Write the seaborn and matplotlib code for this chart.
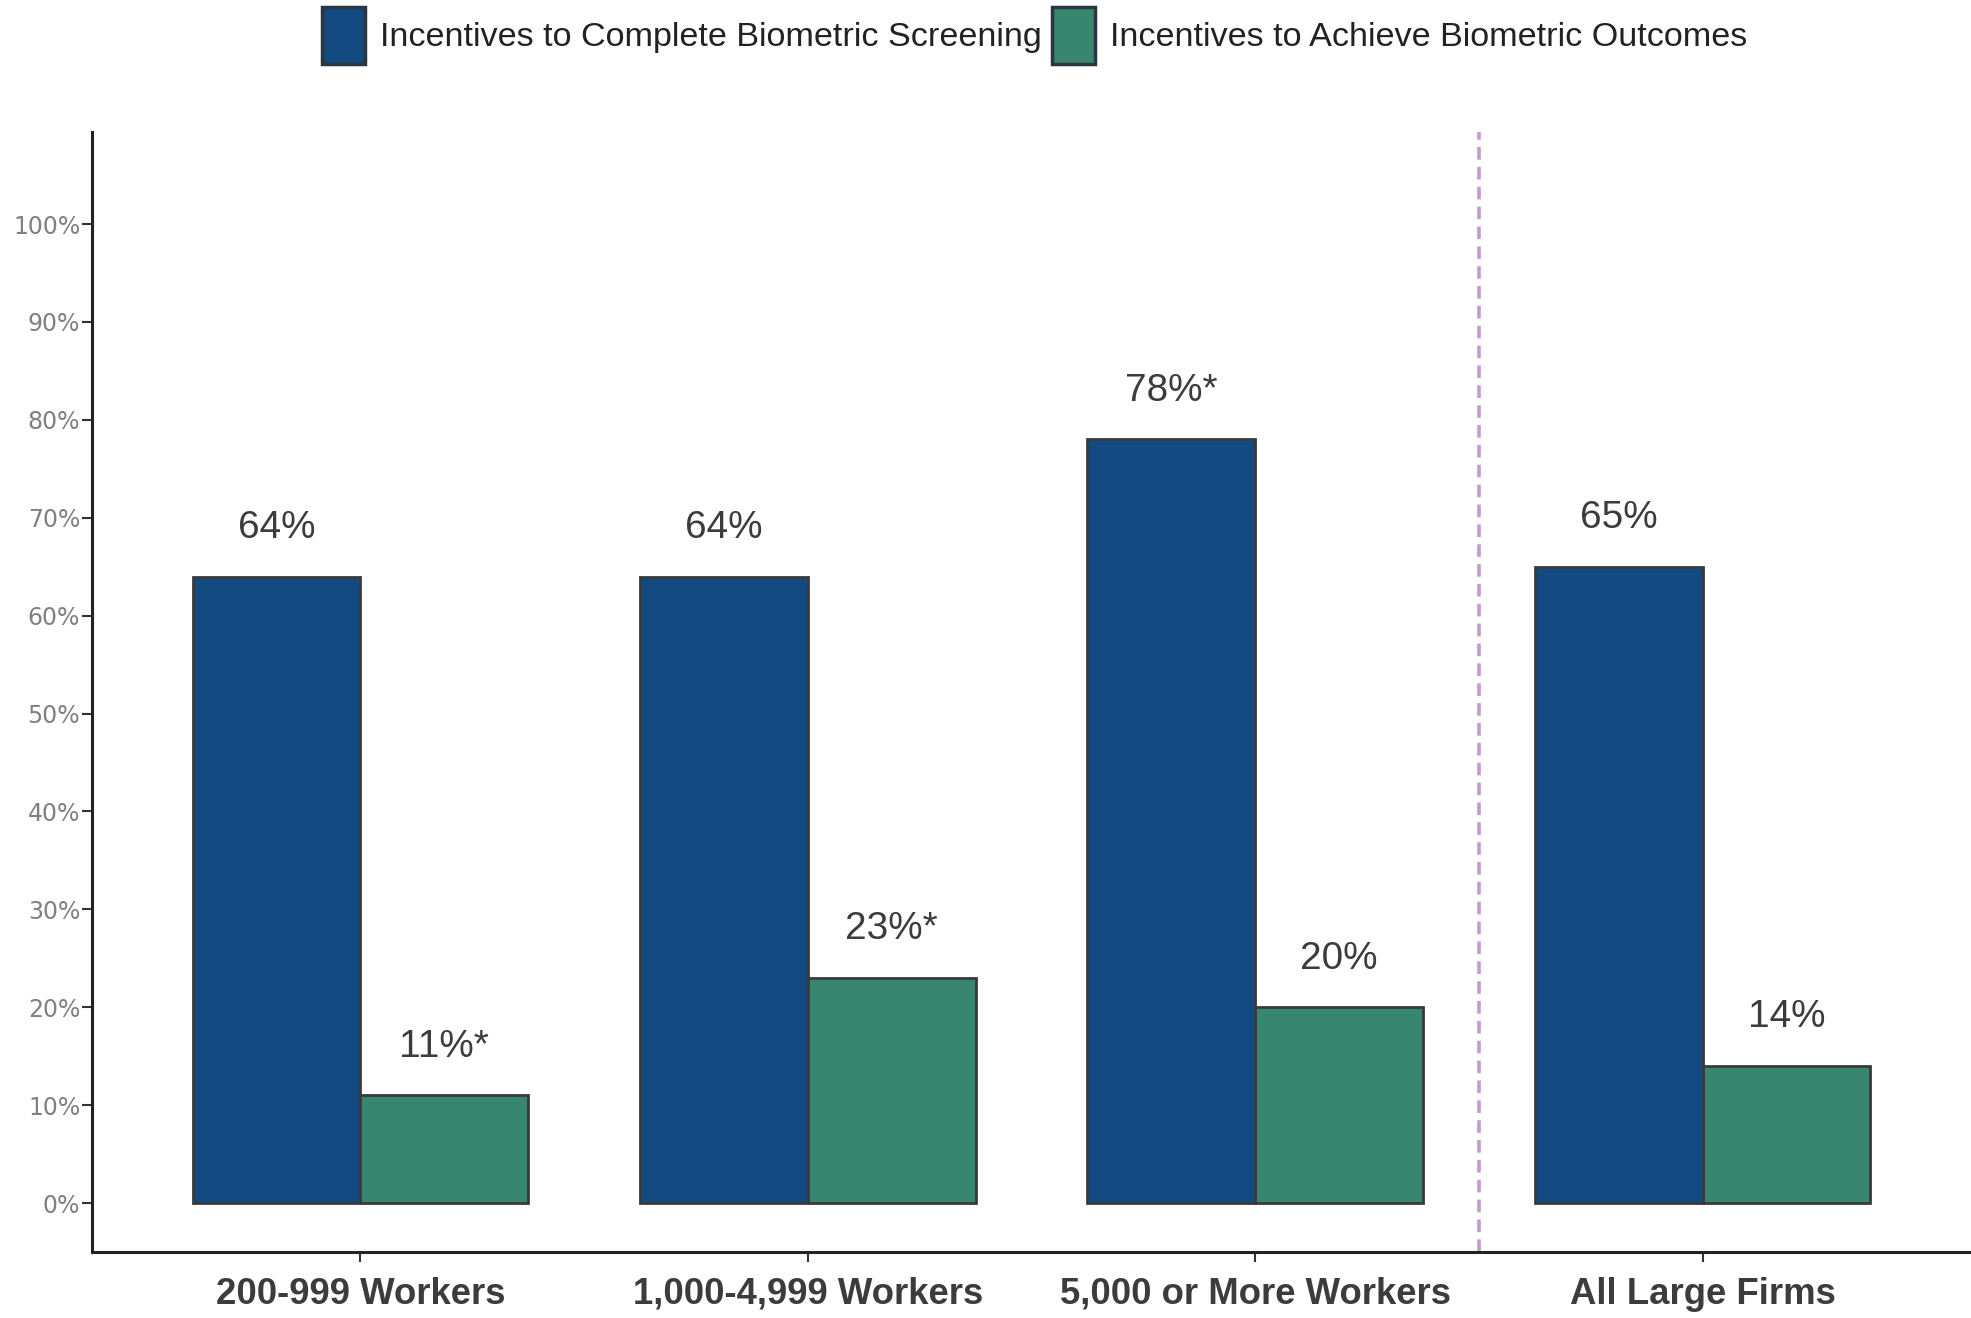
import matplotlib
matplotlib.use("Agg")
import matplotlib.pyplot as plt
from matplotlib import font_manager
import pandas as pd
import seaborn as sns

# Firm-size groups and the two incentive series (percent of firms)
groups = ["200-999 Workers", "1,000-4,999 Workers", "5,000 or More Workers", "All Large Firms"]
series_names = ["Incentives to Complete Biometric Screening",
                "Incentives to Achieve Biometric Outcomes"]
complete_vals = [64, 64, 78, 65]
achieve_vals = [11, 23, 20, 14]
# statistically different from All Large Firms
complete_sig = [False, False, True, False]
achieve_sig = [True, True, False, False]
y_ticks = list(range(0, 101, 10))
y_tick_labels = [f"{t}%" for t in y_ticks]

colors = ["#124A81", "#388570"]

df = pd.DataFrame({
    "group": groups * 2,
    "series": [series_names[0]] * len(groups) + [series_names[1]] * len(groups),
    "value": complete_vals + achieve_vals,
})

sns.set_theme(style="white")

installed = {f.name for f in font_manager.fontManager.ttflist}
if "Liberation Sans Narrow" in installed:
    main_family, k = "Liberation Sans Narrow", 1.0
else:
    main_family, k = "Liberation Sans", 0.82
plt.rcParams["font.family"] = [main_family, "DejaVu Sans"]

fig = plt.figure(figsize=(19.71, 13.18), dpi=100)
ax = fig.add_axes([0.0467, 0.0501, 0.9533, 0.8497])

sns.barplot(data=df, x="group", y="value", hue="series", order=groups,
            hue_order=series_names, palette=colors, width=0.75,
            edgecolor="#3a3a3a", linewidth=2.0, saturation=1, ax=ax)

# value labels above each bar
for cont, vals, sig in zip(ax.containers, [complete_vals, achieve_vals],
                           [complete_sig, achieve_sig]):
    labels = [f"{v}%" + ("*" if s else "") for v, s in zip(vals, sig)]
    ax.bar_label(cont, labels=labels, padding=22, fontsize=34 * k,
                 color="#3c3c3c", family=main_family)

# separator between size groups and the total
ax.axvline(2.5, color="#c49bd1", linestyle=(0, (3.5, 2)), linewidth=2.6)

ax.set_xlim(-0.6, 3.6)
ax.set_ylim(-5, 109.4)
ax.set_yticks(y_ticks)
ax.set_yticklabels(y_tick_labels, family="DejaVu Sans", fontsize=17, color="#808080")
ax.set_xlabel("")
ax.set_ylabel("")
for lab in ax.get_xticklabels():
    lab.set_fontweight("bold")
    lab.set_fontsize(32 * k)
    lab.set_color("#3c3c3c")
    lab.set_family(main_family)

ax.tick_params(axis="y", length=7, width=1.5, color="#333333", pad=1.5, left=True)
ax.tick_params(axis="x", length=7, width=1.5, color="#333333", pad=11, bottom=True)
for side in ["top", "right"]:
    ax.spines[side].set_visible(False)
for side in ["left", "bottom"]:
    ax.spines[side].set_color("#222222")
    ax.spines[side].set_linewidth(2.2)

handles, labels = ax.get_legend_handles_labels()
ax.get_legend().remove()
leg = fig.legend(handles, labels, loc="center", bbox_to_anchor=(0.525, 0.973),
                 ncol=2, frameon=False, fontsize=30 * k, handlelength=1.25,
                 handleheight=2.2, handletextpad=0.45, columnspacing=0.3,
                 borderaxespad=0, borderpad=0)
for h in leg.legend_handles:
    h.set_edgecolor("#2b3640")
    h.set_linewidth(2.5)
for t in leg.get_texts():
    t.set_color("#222222")

fig.savefig("out.png", dpi=100)
